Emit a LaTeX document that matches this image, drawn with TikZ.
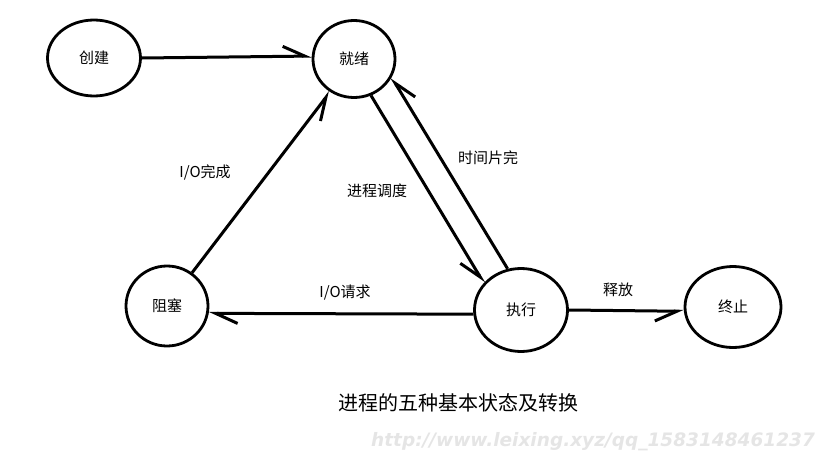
\documentclass[tikz,border=0pt]{standalone}
\usepackage{fontspec}
\setmainfont{Noto Sans CJK SC}
\newfontfamily\markfont{DejaVu Sans}
\usetikzlibrary{arrows.meta,shapes.geometric}

\begin{document}
\begin{tikzpicture}[
            x=1pt, y=-1pt,
            state/.style={
                ellipse, draw, line width=2.8pt, inner sep=0pt,
                font=\fontsize{15}{15}\selectfont
            },
            trans/.style={
                line width=3pt,
                -{Straight Barb[harpoon,length=22pt,width=20pt]}
            },
            transr/.style={
                line width=3pt,
                -{Straight Barb[harpoon,swap,length=22pt,width=20pt]}
            },
            lbl/.style={
                font=\fontsize{15}{15}\selectfont
            }
        ]
        \useasboundingbox (0,0) rectangle (833,466);

        % states
        \node[state, minimum width=93pt, minimum height=76pt] (create) at (94,58) {创建};
        \node[state, minimum width=82pt, minimum height=77pt] (ready) at (354,59) {就绪};
        \node[state, minimum width=82pt, minimum height=80pt] (blocked) at (167,306) {阻塞};
        \node[state, minimum width=93pt, minimum height=83pt] (running) at (521,310) {执行};
        \node[state, minimum width=96pt, minimum height=81pt] (exit) at (733,307) {终止};

        % transitions
        \draw[trans] (create.east) -- (ready.176);
        \draw[transr] (blocked.53) -- (ready.234);
        \draw[transr] (ready.295) -- (running.144);
        \draw[transr] (running.108) -- (ready.334);
        \draw[trans] (running.185) -- (blocked.350);
        \draw[transr] (running.east) -- (exit.185);

        % labels
        \node[lbl] (lio) at (205,172) {I/O完成};
        \node[lbl] (lsched) at (377,191) {进程调度};
        \node[lbl] (lslice) at (488,158) {时间片完};
        \node[lbl] (lreq) at (345,293) {I/O请求};
        \node[lbl] (lfree) at (618,290) {释放};

        \node[font=\fontsize{20}{20}\selectfont] (title) at (458,403) {进程的五种基本状态及转换};
        \node[text=black!10, font=\markfont\bfseries\itshape\fontsize{18.5}{18.5}\selectfont] (mark) at (593,442) {http://www.leixing.xyz/qq\_1583148461237};
        \end{tikzpicture}
\end{document}
